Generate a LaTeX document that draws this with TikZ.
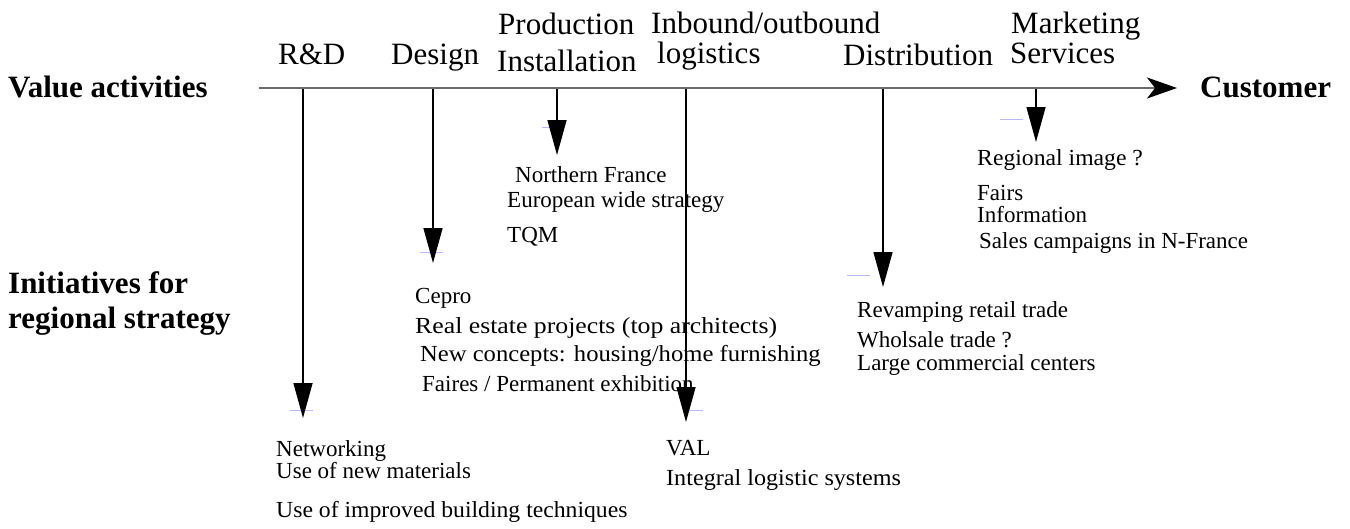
\documentclass[tikz,border=0pt]{standalone}
\usepackage{fontspec}
\setmainfont{Liberation Serif}
\usetikzlibrary{arrows.meta}
\definecolor{axisgray}{gray}{0.42}
\definecolor{tick}{rgb}{0.72,0.72,1}
\tikzset{
  big/.style={anchor=base west,inner sep=0pt,font=\fontsize{31}{37}\selectfont},
  bigb/.style={anchor=base west,inner sep=0pt,font=\fontsize{31}{37}\selectfont\bfseries},
  small/.style={anchor=base west,inner sep=0pt,font=\fontsize{23}{27}\selectfont},
  varrow/.style={line width=1.5pt,-{Triangle[length=35pt,width=19pt]}},
  haxis/.style={line width=2pt,draw=axisgray,-{Stealth[length=30pt,width=21pt,inset=8pt,fill=black,color=black]}},
  stray/.style={draw=tick,line width=0.8pt},
}
\begin{document}
\begin{tikzpicture}[x=1pt,y=-1pt]
\useasboundingbox (0,0) rectangle (1350,528);
% left labels
\node[bigb] (va) at (8,97) {Value activities};
\node[bigb] (ini1) at (8,293) {Initiatives for};
\node[bigb] (ini2) at (8,328) {regional strategy};
\node[bigb] (cust) at (1200,97) {Customer};
% value activities
\node[big] (rd) at (278,64) {R\&D};
\node[big] (des) at (391,64) {Design};
\node[big] (prod1) at (498,34) {Production};
\node[big] (prod2) at (497,71) {Installation};
\node[big] (inb1) at (651,33) {Inbound/outbound};
\node[big] (inb2) at (657,63) {logistics};
\node[big] (dist) at (843,65) {Distribution};
\node[big] (mkt1) at (1011,33) {Marketing};
\node[big] (mkt2) at (1010,63) {Services};
% axis
\coordinate (axS) at (259,88);
\coordinate (axE) at (1177,88);
% arrow coordinates
\coordinate (rdT) at (303,88);   \coordinate (rdB) at (303,418);
\coordinate (desT) at (433,88);  \coordinate (desB) at (433,263);
\coordinate (prT) at (557,88);   \coordinate (prB) at (557,155);
\coordinate (inT) at (686,88);   \coordinate (inB) at (686,422);
\coordinate (diT) at (883,88);   \coordinate (diB) at (883,287);
\coordinate (mkT) at (1036,88);  \coordinate (mkB) at (1036,142);
% texts
\node[small] (nf) at (515,182) {Northern France};
\node[small] (ews) at (507,207) {European wide strategy};
\node[small] (tqm) at (507,242) {TQM};
\node[small] (ri) at (977,165) {\scalebox{1.03}[1]{Regional image ?}};
\node[small] (fairs) at (977,200) {Fairs};
\node[small] (info) at (977,222) {Information};
\node[small] (sales) at (979,248) {Sales campaigns in N-France};
\node[small] (cep) at (415,303) {Cepro};
\node[small] (rep) at (415,333) {\scalebox{1.12}[1]{Real estate projects (top architects)}};
\node[small] (nc) at (420,361) {\scalebox{1.07}[1]{New concepts: housing/home furnishing}};
\node[small] (fpe) at (422,391) {Faires / Permanent exhibition};
\node[small] (rev) at (857,317) {Revamping retail trade};
\node[small] (whs) at (857,347) {Wholsale trade ?};
\node[small] (lcc) at (857,370) {Large commercial centers};
\node[small] (net) at (276,456) {Networking};
\node[small] (unm) at (276,478) {Use of new materials};
\node[small] (uib) at (276,517) {\scalebox{1.03}[1]{Use of improved building techniques}};
\node[small] (val) at (666,455) {VAL};
\node[small] (ils) at (666,485) {\scalebox{1.05}[1]{Integral logistic systems}};
% stray marks
\draw[stray] (290,410) -- (313,410);
\draw[stray] (420,252) -- (443,252);
\draw[stray] (542,127) -- (557,127);
\draw[stray] (687,410) -- (703,410);
\draw[stray] (847,275) -- (870,275);
\draw[stray] (1000,119) -- (1023,119);
% arrows
\draw[varrow] (rdT) -- (rdB);
\draw[varrow] (desT) -- (desB);
\draw[varrow] (prT) -- (prB);
\draw[varrow] (inT) -- (inB);
\draw[varrow] (diT) -- (diB);
\draw[varrow] (mkT) -- (mkB);
\draw[haxis] (axS) -- (axE);
\end{tikzpicture}
\end{document}
